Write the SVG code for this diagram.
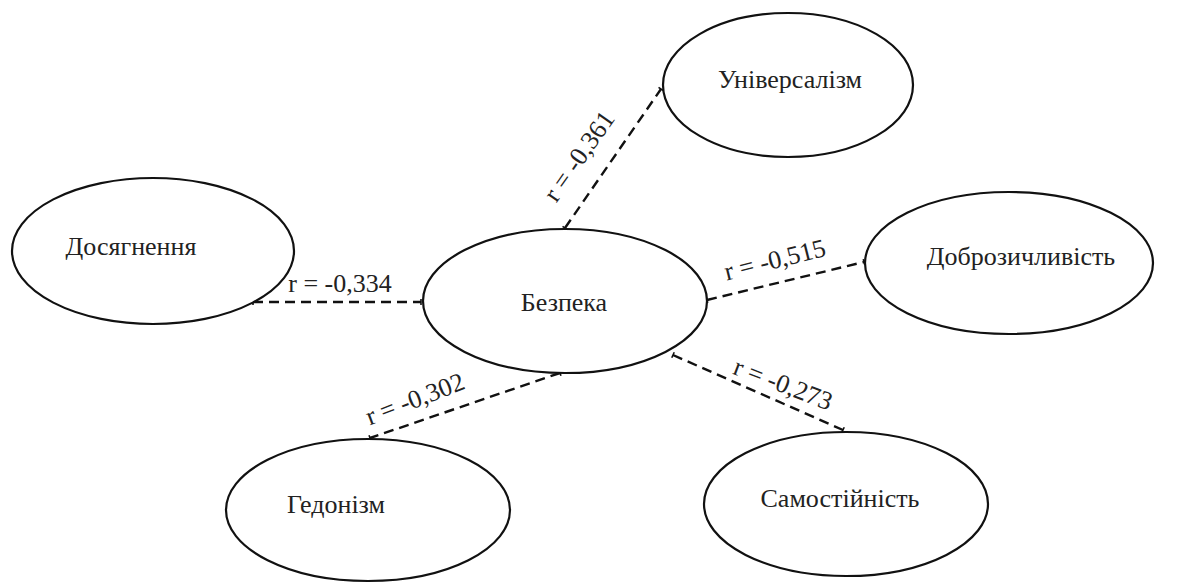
<svg xmlns="http://www.w3.org/2000/svg" width="1190" height="583" viewBox="0 0 1190 583">
<defs>
<marker id="tick" markerWidth="4" markerHeight="10" refX="0" refY="5" orient="auto" markerUnits="userSpaceOnUse" viewBox="-2 0 4 10">
<path d="M0,2 L0,8" stroke="#111" stroke-width="1.6"/>
</marker>
<style>
.node ellipse{fill:#fff;stroke:#111;stroke-width:2.2}
.lbl{font-family:"Liberation Serif","Times New Roman",serif;font-size:26px;fill:#222}
.conn line{stroke:#111;stroke-width:2.4;stroke-dasharray:10 6;marker-start:url(#tick);marker-end:url(#tick)}
</style>
</defs>
<rect width="1190" height="583" fill="#fff"/>
<g id="connectors" class="conn">
<line x1="253" y1="302" x2="421" y2="302"/>
<line x1="565" y1="228" x2="661" y2="89"/>
<line x1="707" y1="300" x2="864" y2="262"/>
<line x1="560" y1="373" x2="370" y2="438"/>
<line x1="673" y1="355" x2="843" y2="430"/>
<text class="lbl" x="340" y="292" text-anchor="middle">r = -0,334</text>
<text class="lbl" x="586" y="161" text-anchor="middle" transform="rotate(-55 586 161)">r = -0,361</text>
<text class="lbl" x="777" y="268" text-anchor="middle" transform="rotate(-14 777 268)">r = -0,515</text>
<text class="lbl" x="418" y="407" text-anchor="middle" transform="rotate(-21 418 407)">r = -0,302</text>
<text class="lbl" x="780" y="392" text-anchor="middle" transform="rotate(21 780 392)">r = -0,273</text>
</g>
<g id="node-universalism" class="node">
<ellipse cx="788" cy="85" rx="125" ry="72"/>
<text class="lbl" x="790" y="88" text-anchor="middle">Універсалізм</text>
</g>
<g id="node-dosiahnennia" class="node">
<ellipse cx="153" cy="251" rx="141" ry="73"/>
<text class="lbl" x="131" y="255" text-anchor="middle">Досягнення</text>
</g>
<g id="node-bezpeka" class="node">
<ellipse cx="565" cy="301" rx="142" ry="72"/>
<text class="lbl" x="564" y="311" text-anchor="middle">Безпека</text>
</g>
<g id="node-dobrozychlyvist" class="node">
<ellipse cx="1009" cy="263" rx="144" ry="71"/>
<text class="lbl" x="1021" y="265" text-anchor="middle">Доброзичливість</text>
</g>
<g id="node-hedonizm" class="node">
<ellipse cx="368" cy="510" rx="142" ry="71"/>
<text class="lbl" x="336" y="513" text-anchor="middle">Гедонізм</text>
</g>
<g id="node-samostiinist" class="node">
<ellipse cx="846" cy="504" rx="142" ry="72"/>
<text class="lbl" x="840" y="507" text-anchor="middle">Самостійність</text>
</g>
</svg>
